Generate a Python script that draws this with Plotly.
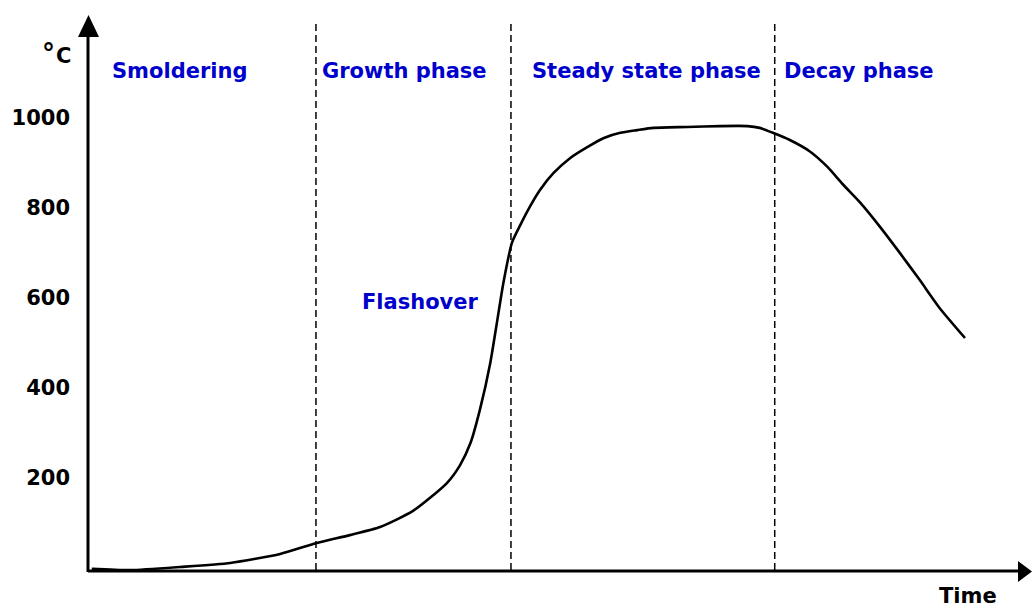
import plotly.graph_objects as go

# ---- data ----
time = [0.4, 4.5, 9.8, 15.1, 20.4, 24.2, 27.8, 31.0, 34.5, 38.1, 39.5, 40.6, 41.6, 42.7,
        43.4, 44.1, 45.0, 45.9, 46.9, 48.0, 49.4, 51.2, 53.0, 54.7, 56.5, 58.3, 60.0,
        63.6, 67.1, 70.0, 71.3, 72.7, 74.5, 76.6, 78.5, 80.1, 82.0, 84.1, 86.2, 88.3,
        90.4, 93.1]
temperature = [-4, -7, 0, 9, 29, 53, 71, 89, 125, 187, 227, 276, 350, 454,
               543, 633, 722, 762, 802, 840, 877, 911, 935, 955, 967, 973, 978,
               980, 982, 982, 978, 967, 951, 926, 891, 853, 811, 757, 699, 639,
               577, 510]
phase_boundaries = [24.2, 44.9, 72.9]
phase_labels = ["Smoldering", "Growth phase", "Steady state phase", "Decay phase"]
phase_label_x = [2.3, 24.6, 46.9, 73.7]
phase_label_y = 1105
flash_label = "Flashover"
flash_x, flash_y = 28.9, 590
y_ticks = [200, 400, 600, 800, 1000]
x_title = "Time"

W, H = 1032, 607
L, R, T, B = 88, 2, 18, 36
FONT = "DejaVu Sans"
BLUE = "#0000CC"

def px(x):
    return (x - L) / (W - L - R)

def py(y):
    return 1 - (y - T) / (H - T - B)

fig = go.Figure()
fig.add_trace(go.Scatter(x=time, y=temperature, mode="lines",
                         line=dict(color="black", width=2.6, shape="spline", smoothing=0.6),
                         hoverinfo="skip", showlegend=False))

shapes = []
for xb in phase_boundaries:
    shapes.append(dict(type="line", xref="x", yref="paper", x0=xb, x1=xb,
                       y0=py(570), y1=py(23),
                       line=dict(color="black", width=1.5, dash="7px,4px")))
# axes with arrowheads
shapes.append(dict(type="line", xref="paper", yref="paper", x0=px(88), x1=px(1020),
                   y0=py(571), y1=py(571), line=dict(color="black", width=3)))
shapes.append(dict(type="line", xref="paper", yref="paper", x0=px(88), x1=px(88),
                   y0=py(572), y1=py(34), line=dict(color="black", width=3)))
shapes.append(dict(type="path", xref="paper", yref="paper",
                   path=f"M {px(78)},{py(37)} L {px(99)},{py(37)} L {px(88.5)},{py(15)} Z",
                   fillcolor="black", line=dict(color="black", width=0)))
shapes.append(dict(type="path", xref="paper", yref="paper",
                   path=f"M {px(1018)},{py(561)} L {px(1018)},{py(582)} L {px(1032)},{py(571.5)} Z",
                   fillcolor="black", line=dict(color="black", width=0)))

annotations = []
for lab, lx in zip(phase_labels, phase_label_x):
    annotations.append(dict(x=lx, y=phase_label_y, xref="x", yref="y", text=f"<b>{lab}</b>",
                            showarrow=False, xanchor="left", yanchor="middle",
                            font=dict(family=FONT, size=21, color=BLUE)))
annotations.append(dict(x=flash_x, y=flash_y, xref="x", yref="y", text=f"<b>{flash_label}</b>",
                        showarrow=False, xanchor="left", yanchor="middle",
                        font=dict(family=FONT, size=21, color=BLUE)))
annotations.append(dict(x=px(48.5), y=py(53), xref="paper", yref="paper", text="<b>°</b>",
                        showarrow=False, xanchor="center", yanchor="middle",
                        font=dict(family=FONT, size=26, color="black")))
annotations.append(dict(x=px(63), y=py(56), xref="paper", yref="paper", text="<b>C</b>",
                        showarrow=False, xanchor="center", yanchor="middle",
                        font=dict(family=FONT, size=21, color="black")))
annotations.append(dict(x=px(998), y=py(596), xref="paper", yref="paper", text=f"<b>{x_title}</b>",
                        showarrow=False, xanchor="right", yanchor="middle", borderpad=0,
                        font=dict(family=FONT, size=21, color="black")))

fig.update_layout(
    width=W, height=H,
    margin=dict(l=L, r=R, t=T, b=B),
    paper_bgcolor="white", plot_bgcolor="white",
    shapes=shapes, annotations=annotations,
    xaxis=dict(range=[0, 100], showgrid=False, zeroline=False, showline=False,
               showticklabels=False, ticks=""),
    yaxis=dict(range=[-8.9, 1222.7], showgrid=False, zeroline=False, showline=False,
               tickvals=y_ticks, ticktext=[f"<b>{v}</b>" for v in y_ticks],
               ticks="", ticklabelstandoff=17,
               tickfont=dict(family=FONT, size=21, color="black")),
)

fig.write_html("out.html", config={"displayModeBar": False},
               post_script="document.body.style.margin='0';document.body.style.overflow='hidden';")
